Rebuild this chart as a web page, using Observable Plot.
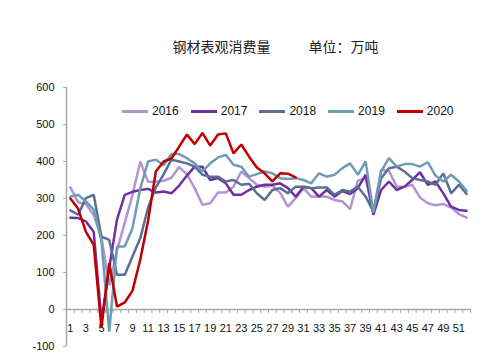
<!DOCTYPE html>
<html>
<head>
<meta charset="utf-8">
<script src="https://cdn.jsdelivr.net/npm/d3@7"></script>
<script src="https://cdn.jsdelivr.net/npm/@observablehq/plot@0.6"></script>
<style>
  html, body { margin: 0; padding: 0; background: #fff; }
  #wrap { position: relative; width: 499px; height: 358px; overflow: hidden; font-family: "Liberation Sans", Arial, sans-serif; }
  #title { position: absolute; top: 36px; left: 0; width: 499px; text-align: center; font-family: "Noto Sans CJK SC", sans-serif; font-size: 14px; color: #222; padding-left: 52px; box-sizing: border-box; }
  #title span.unit { margin-left: 38px; }
  #legend { position: absolute; top: 104px; left: 122px; display: flex; font-size: 12px; color: #111; }
  #legend .item { display: flex; align-items: center; margin-right: 12px; }
  #legend .sw { width: 26px; height: 3px; margin-right: 4px; }
  #chart { position: absolute; top: 0; left: 0; }
</style>
</head>
<body>
<div id="wrap">
  <div id="chart"></div>
  <div id="title"><span>钢材表观消费量</span><span class="unit">单位：万吨</span></div>
  <div id="legend"></div>
</div>
<script>
const years = ["2016", "2017", "2018", "2019", "2020"];
const colors = ["#b394d3", "#7030a0", "#5b6f92", "#6b9db6", "#c00000"];
const yTicks = [-100, 0, 100, 200, 300, 400, 500, 600];

const s2016 = [330, 290, 285, 255, 195, 65, 160, 235, 310, 400, 345, 345, 348, 356, 385, 365, 328, 283, 287, 316, 316, 332, 373, 355, 337, 332, 335, 315, 278, 301, 328, 305, 306, 305, 296, 292, 271, 348, 355, 262, 377, 375, 332, 332, 337, 303, 287, 282, 285, 276, 258, 248];
const s2017 = [248, 247, 238, 210, -30, 112, 243, 310, 318, 323, 326, 316, 319, 314, 335, 362, 386, 386, 350, 355, 341, 310, 310, 323, 332, 337, 337, 341, 328, 305, 332, 328, 305, 323, 305, 320, 312, 328, 364, 256, 323, 346, 323, 332, 350, 371, 337, 346, 314, 278, 269, 267];
const s2018 = [268, 256, 301, 310, 197, 188, 94, 94, 143, 193, 275, 330, 365, 405, 400, 395, 386, 364, 359, 359, 346, 350, 337, 340, 314, 296, 323, 328, 314, 332, 332, 328, 330, 330, 310, 323, 319, 332, 305, 265, 355, 382, 386, 373, 355, 350, 346, 337, 368, 314, 337, 312];
const s2019 = [305, 310, 292, 270, 185, -60, 170, 170, 220, 328, 400, 405, 390, 420, 420, 409, 395, 373, 395, 411, 418, 391, 386, 359, 366, 373, 368, 355, 353, 355, 350, 341, 368, 359, 364, 382, 395, 364, 400, 262, 373, 409, 386, 393, 393, 386, 398, 362, 346, 364, 346, 321];
const s2020 = [300, 272, 210, 175, -50, 125, 8, 19, 51, 135, 240, 373, 400, 408, 440, 473, 447, 477, 443, 473, 476, 422, 446, 413, 384, 368, 346, 368, 367, 357];

const seriesValues = [s2016, s2017, s2018, s2019, s2020];
const weeks = d3.range(1, 53);
const oddWeeks = weeks.filter(w => w % 2 === 1);
const boundaries = weeks.map(w => w - 0.5).concat([weeks[weeks.length - 1] + 0.5]);

const data = years.flatMap((yr, i) => seriesValues[i].map((v, j) => ({week: weeks[j], value: v, year: yr})));

const axisColor = "#a6a6a6";

const chart = Plot.plot({
  width: 499,
  height: 358,
  marginTop: 87,
  marginBottom: 12,
  marginLeft: 66,
  marginRight: 29,
  style: {fontFamily: "'Liberation Sans', Arial, sans-serif", fontSize: "11px", background: "transparent", color: "#111"},
  x: {type: "linear", domain: [0.5, 52.5], axis: null},
  y: {type: "linear", domain: [-100, 600], axis: null},
  color: {domain: years, range: colors},
  marks: [
    Plot.axisY({ticks: yTicks, tickSize: 3, tickPadding: 9, stroke: axisColor, tickFormat: d => String(d), fill: "#111", label: null}),
    Plot.ruleX([boundaries[0]], {y1: yTicks[0], y2: yTicks[yTicks.length - 1], stroke: axisColor, strokeWidth: 1.5}),
    Plot.ruleY([0], {x1: boundaries[0], x2: boundaries[boundaries.length - 1], stroke: axisColor, strokeWidth: 1.5}),
    Plot.ruleX(boundaries, {x: d => d, y1: 0, y2: -11, stroke: axisColor, strokeWidth: 1}),
    Plot.text(oddWeeks, {x: d => d, y: 0, dy: 19, text: d => String(d), fill: "#111", fontSize: 11}),
    Plot.line(data, {x: "week", y: "value", z: "year", stroke: "year", strokeWidth: 2.5, strokeLinejoin: "miter"})
  ]
});
document.getElementById("chart").appendChild(chart);

const legend = document.getElementById("legend");
years.forEach((yr, i) => {
  const item = document.createElement("div");
  item.className = "item";
  const sw = document.createElement("div");
  sw.className = "sw";
  sw.style.background = colors[i];
  const t = document.createElement("span");
  t.textContent = yr;
  item.appendChild(sw);
  item.appendChild(t);
  legend.appendChild(item);
});
</script>
</body>
</html>
